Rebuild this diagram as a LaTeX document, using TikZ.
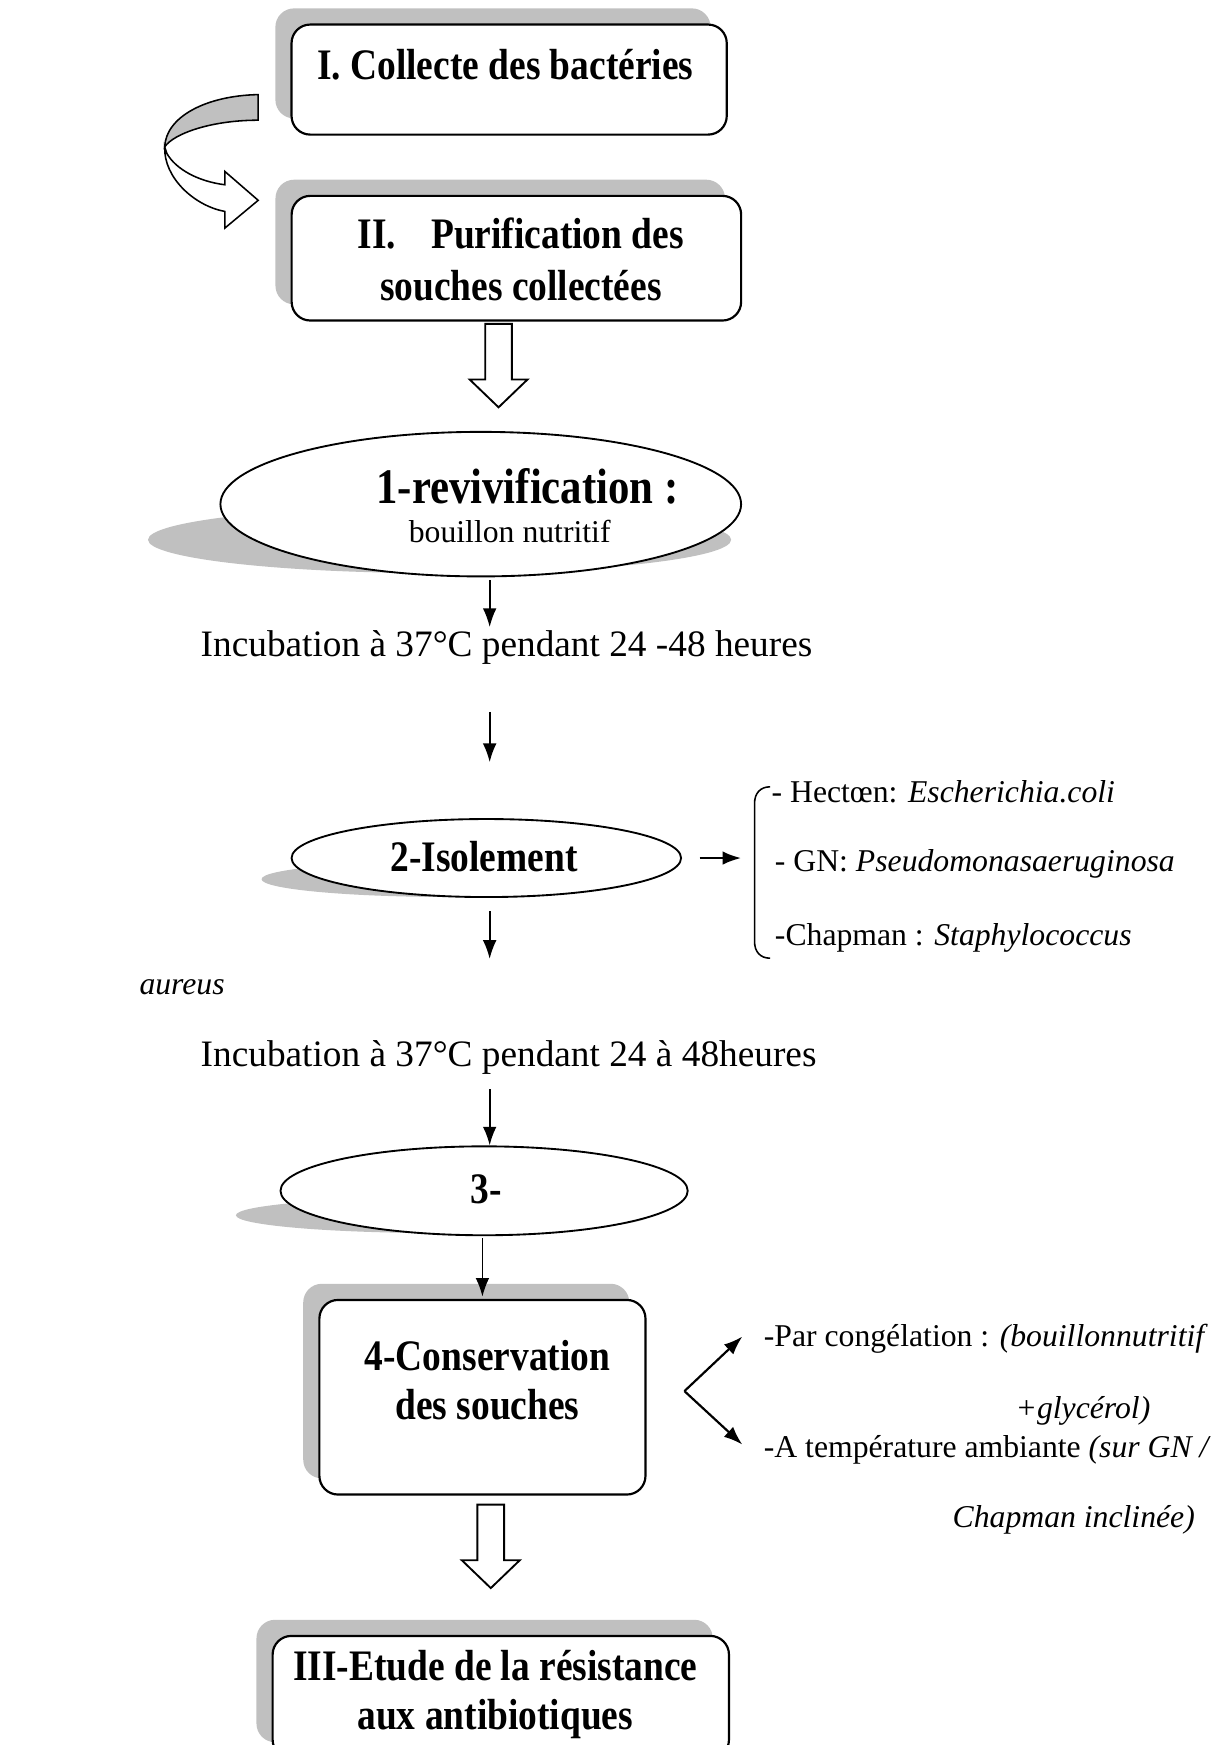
\documentclass[tikz,border=0pt]{standalone}
\usepackage{fontspec}
\setmainfont{Liberation Serif}
\newfontfamily\headfont{Liberation Serif}[FakeStretch=0.86]
\usepackage{xcolor}
\usepackage{tikz}
\usetikzlibrary{positioning,arrows.meta,shapes.geometric,shadows,calc}

\definecolor{shadowgray}{HTML}{C0C0C0}

\begin{document}
\begin{tikzpicture}[
    x=0.358pt, y=-0.358pt,
    >=Latex,
    stage/.style={rectangle, rounded corners=6pt, draw, line width=0.7pt, fill=white,
        drop shadow={shadow xshift=-5.2pt, shadow yshift=5.2pt, fill=shadowgray, opacity=1}},
    oval/.style={ellipse, draw, line width=0.6pt, fill=white, inner sep=0pt},
    head/.style={font=\headfont\fontsize{14}{16.5}\selectfont\bfseries, align=center, inner sep=1pt},
    txt/.style={font=\fontsize{12}{14}\selectfont, inner sep=1pt, anchor=west},
    note/.style={font=\fontsize{10.2}{12}\selectfont, inner sep=1pt, anchor=west},
    flow/.style={-{Latex[length=6pt,width=4.4pt]}, line width=0.55pt},
    hollow/.style={draw, line width=0.6pt, fill=white, line join=miter},
    eshade/.style={fill=shadowgray}
]
\useasboundingbox (0,0) rectangle (1099,1568);

% === I and II ===
\node[stage, minimum width=140pt, minimum height=35.4pt] (b1) at (457.5,71.5) {};
\node[head] (t1) at (454,58) {I. Collecte des bactéries};

\node[stage, minimum width=144.6pt, minimum height=40.1pt] (b2) at (464,232) {};
\node[head] (t2) at (468,233) {II.\hspace{0.8em}Purification des\\souches collectées};

% curved arrow from I to II
\draw[line width=0.5pt, fill=shadowgray] (232,85) .. controls (185,86) and (149,105) .. (148,132)
    .. controls (156,120) and (190,108) .. (232,108) -- cycle;
\draw[line width=0.5pt, fill=white] (148,132) .. controls (147,160) and (175,185) .. (202,190)
    -- (202,205) -- (232,180) -- (202,154) -- (202,166)
    .. controls (178,163) and (158,152) .. (150,138) -- cycle;

% hollow arrow II -> 1
\draw[hollow] (436,291) -- (460,291) -- (460,341) -- (474,341) -- (448,366)
    -- (422,341) -- (436,341) -- cycle;

% === 1-revivification ===
\fill[eshade] (395,485) ellipse [x radius=262, y radius=30];
\node[oval, minimum width=167.5pt, minimum height=46.5pt] (e1) at (432,453) {};
\node[head, font=\headfont\fontsize{16}{18}\selectfont\bfseries] (t3) at (474,437) {1-revivification :};
\node[note, anchor=center] (t4) at (458,478) {bouillon nutritif};

\coordinate (ax) at (440,0);
\node[txt] (inc1) at (177,582) {Incubation à 37°C pendant 24 -48 heures};
\draw[flow, shorten <=1pt] (e1.south -| ax) -- (inc1.north -| ax);

% === 2-Isolement ===
\fill[eshade] (405,790) ellipse [x radius=170, y radius=16];
\node[oval, minimum width=125.3pt, minimum height=25.1pt] (e2) at (437,771) {};
\node[head] (t5) at (435,770) {2-Isolement};
\draw[flow, shorten <=14pt, shorten >=18pt] (inc1.south -| ax) -- (e2.north -| ax);

% milieux
\coordinate (brk) at (666,771);
\draw[flow, line width=0.8pt, shorten <=5.7pt] (e2.east) -- (brk);
\draw[line width=0.5pt] (692,707) .. controls (683,707) and (678,713) .. (678,722)
    -- (678,846) .. controls (678,855) and (683,861) .. (692,861);
\node[note] (hect) at (690,711) {- Hectœn: \textit{Escherichia.coli}};
\node[note] (gn) at (693,776) {- GN: \textit{Pseudomonasaeruginosa}};
\node[note] (chap) at (693,843) {-Chapman : \textit{Staphylococcus}};
\node[note] (aur) at (122,887) {\textit{aureus}};

\node[txt] (inc2) at (177,950) {Incubation à 37°C pendant 24 à 48heures};
\draw[flow, shorten <=4.3pt, shorten >=25pt] (e2.south -| ax) -- (inc2.north -| ax);

% === 3- ===
\fill[eshade] (398,1092) ellipse [x radius=186, y radius=16];
\node[oval, minimum width=131pt, minimum height=28.6pt] (e3) at (435,1070) {};
\node[head] (t6) at (437,1069) {3-};
\draw[flow, shorten <=3.6pt] (inc2.south -| ax) -- (e3.north -| ax);

% === 4-Conservation ===
\node[stage, minimum width=104.9pt, minimum height=62.6pt] (b4) at (433.5,1255.5) {};
\node[head, font=\headfont\fontsize{14}{15.8}\selectfont\bfseries] (t7) at (438,1240) {4-Conservation\\des souches};
\draw[flow, shorten <=0.7pt, shorten >=0.7pt] (e3.south -| b4) -- (b4.north);

\coordinate (fork) at (615,1250);
\coordinate (up) at (667,1201);
\coordinate (dn) at (667,1298);
\draw[flow, line width=0.7pt] (fork) -- (up);
\draw[flow, line width=0.7pt] (fork) -- (dn);
\node[note] (cong) at (683,1203) {-Par congélation : \textit{(bouillonnutritif}};
\node[note, anchor=east] (glyc) at (1037,1268) {\textit{+glycérol)}};
\node[note] (amb) at (683,1303) {-A température ambiante \textit{(sur GN /}};
\node[note, anchor=east] (chin) at (1077,1366) {\textit{Chapman inclinée)}};

% hollow arrow 4 -> III
\draw[hollow] (429,1352) -- (453,1352) -- (453,1402) -- (467,1402) -- (441,1427)
    -- (415,1402) -- (429,1402) -- cycle;

% === III ===
\node[stage, minimum width=146.8pt, minimum height=39.4pt] (b3) at (450,1525) {};
\node[head, font=\headfont\fontsize{14}{15.8}\selectfont\bfseries] (t8) at (445,1523) {III-Etude de la résistance\\aux antibiotiques};
\end{tikzpicture}
\end{document}
